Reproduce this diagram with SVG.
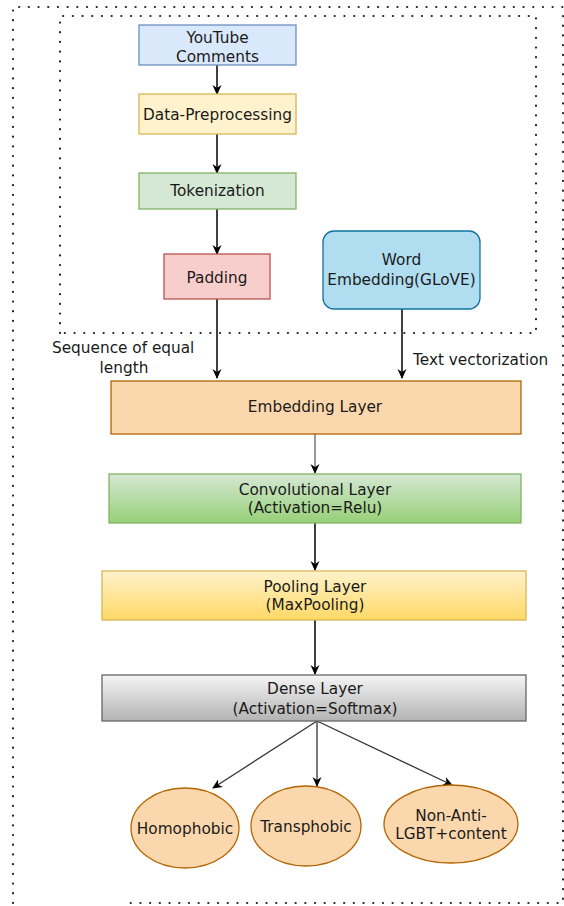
<svg xmlns="http://www.w3.org/2000/svg" width="564" height="906" viewBox="0 0 564 906">
<defs>
<style>
text{font-family:"DejaVu Sans","Verdana",sans-serif;font-size:15.3px;fill:#1a1a1a;text-anchor:middle}
.lbl{text-anchor:start}
.dot{fill:none;stroke:#222;stroke-width:2.2;stroke-dasharray:0.1 9.6;stroke-linecap:round}
.edge{fill:none;stroke:#000;stroke-width:1.5;marker-end:url(#ah)}
.gedge{fill:none;stroke:#777;stroke-width:1.5;marker-end:url(#ah)}
.tail{fill:none;stroke:#333;stroke-width:1.3;marker-end:url(#ah)}
</style>
<marker id="ah" viewBox="0 0 10 10" refX="9" refY="5" markerWidth="10" markerHeight="10" markerUnits="userSpaceOnUse" orient="auto">
<path d="M0,0.5 L10,5 L0,9.5 L3,5 Z" fill="#000"/>
</marker>
<linearGradient id="gGreen" x1="0" y1="0" x2="0" y2="1"><stop offset="0" stop-color="#d5e8d4"/><stop offset="1" stop-color="#97d077"/></linearGradient>
<linearGradient id="gYellow" x1="0" y1="0" x2="0" y2="1"><stop offset="0" stop-color="#fff2cc"/><stop offset="1" stop-color="#ffd966"/></linearGradient>
<linearGradient id="gGray" x1="0" y1="0" x2="0" y2="1"><stop offset="0" stop-color="#f5f5f5"/><stop offset="1" stop-color="#b3b3b3"/></linearGradient>
</defs>
<rect width="564" height="906" fill="#fff"/>
<g id="frames">
<path class="dot" d="M13,903 L13,7 L563,7 L563,903 L127,903"/>
<path class="dot" d="M60,333 L60,16 L536,16 L536,333 Z"/>
</g>
<g id="connectors">
<line class="edge" x1="217" y1="65" x2="217" y2="94"/>
<line class="edge" x1="217" y1="134" x2="217" y2="173"/>
<line class="edge" x1="217" y1="209" x2="217" y2="254"/>
<line class="edge" x1="217" y1="299" x2="217" y2="378"/>
<line class="edge" x1="402" y1="309" x2="402" y2="378"/>
<line class="gedge" x1="315" y1="434" x2="315" y2="473"/>
<line class="edge" x1="315" y1="523" x2="315" y2="570"/>
<line class="edge" x1="315" y1="620" x2="315" y2="674"/>
<line class="tail" x1="317" y1="721" x2="213" y2="788"/>
<line class="tail" x1="317" y1="721" x2="317" y2="786"/>
<line class="tail" x1="317" y1="721" x2="452" y2="785"/>
<text class="lbl" x="52" y="352.5">Sequence of equal</text>
<text x="124" y="372.5">length</text>
<text class="lbl" x="413" y="364.5">Text vectorization</text>
</g>
<g id="youtube"><rect x="139" y="25" width="157" height="40" fill="#dae8fc" stroke="#6c8ebf" stroke-width="1.3"/><text x="217.5" y="42.5">YouTube</text><text x="217.5" y="62">Comments</text></g>
<g id="preproc"><rect x="139" y="94" width="157" height="40" fill="#fff2cc" stroke="#d6b656" stroke-width="1.3"/><text x="217.5" y="120">Data-Preprocessing</text></g>
<g id="token"><rect x="139" y="173" width="157" height="36" fill="#d5e8d4" stroke="#82b366" stroke-width="1.3"/><text x="217.5" y="195.5">Tokenization</text></g>
<g id="padding"><rect x="164" y="254" width="106" height="45" fill="#f8cecc" stroke="#b85450" stroke-width="1.3"/><text x="217" y="282.5">Padding</text></g>
<g id="glove"><rect x="323" y="231" width="157" height="78" rx="11" fill="#b1ddf0" stroke="#10739e" stroke-width="1.3"/><text x="401.5" y="264.5">Word</text><text x="401.5" y="284.5">Embedding(GLoVE)</text></g>
<g id="embedding"><rect x="111" y="381" width="410" height="53" fill="#fad7ac" stroke="#b46504" stroke-width="1.3"/><text x="315" y="411.5">Embedding Layer</text></g>
<g id="conv"><rect x="109" y="474" width="412" height="49" fill="url(#gGreen)" stroke="#82b366" stroke-width="1.3"/><text x="315" y="494.5">Convolutional Layer</text><text x="315" y="512.5">(Activation=Relu)</text></g>
<g id="pooling"><rect x="102" y="571" width="424" height="49" fill="url(#gYellow)" stroke="#d6b656" stroke-width="1.3"/><text x="315" y="591.5">Pooling Layer</text><text x="315" y="609.5">(MaxPooling)</text></g>
<g id="dense"><rect x="102" y="675" width="424" height="46" fill="url(#gGray)" stroke="#666" stroke-width="1.3"/><text x="315" y="693.5">Dense Layer</text><text x="315" y="713.5">(Activation=Softmax)</text></g>
<g id="homophobic"><ellipse cx="185" cy="828" rx="54" ry="40" fill="#fad7ac" stroke="#b46504" stroke-width="1.3"/><text x="185" y="833.5">Homophobic</text></g>
<g id="transphobic"><ellipse cx="306" cy="826" rx="55" ry="40" fill="#fad7ac" stroke="#b46504" stroke-width="1.3"/><text x="306" y="832">Transphobic</text></g>
<g id="nonanti"><ellipse cx="451" cy="824" rx="67" ry="39" fill="#fad7ac" stroke="#b46504" stroke-width="1.3"/><text x="451" y="820.5">Non-Anti-</text><text x="451" y="838.5">LGBT+content</text></g>
</svg>
